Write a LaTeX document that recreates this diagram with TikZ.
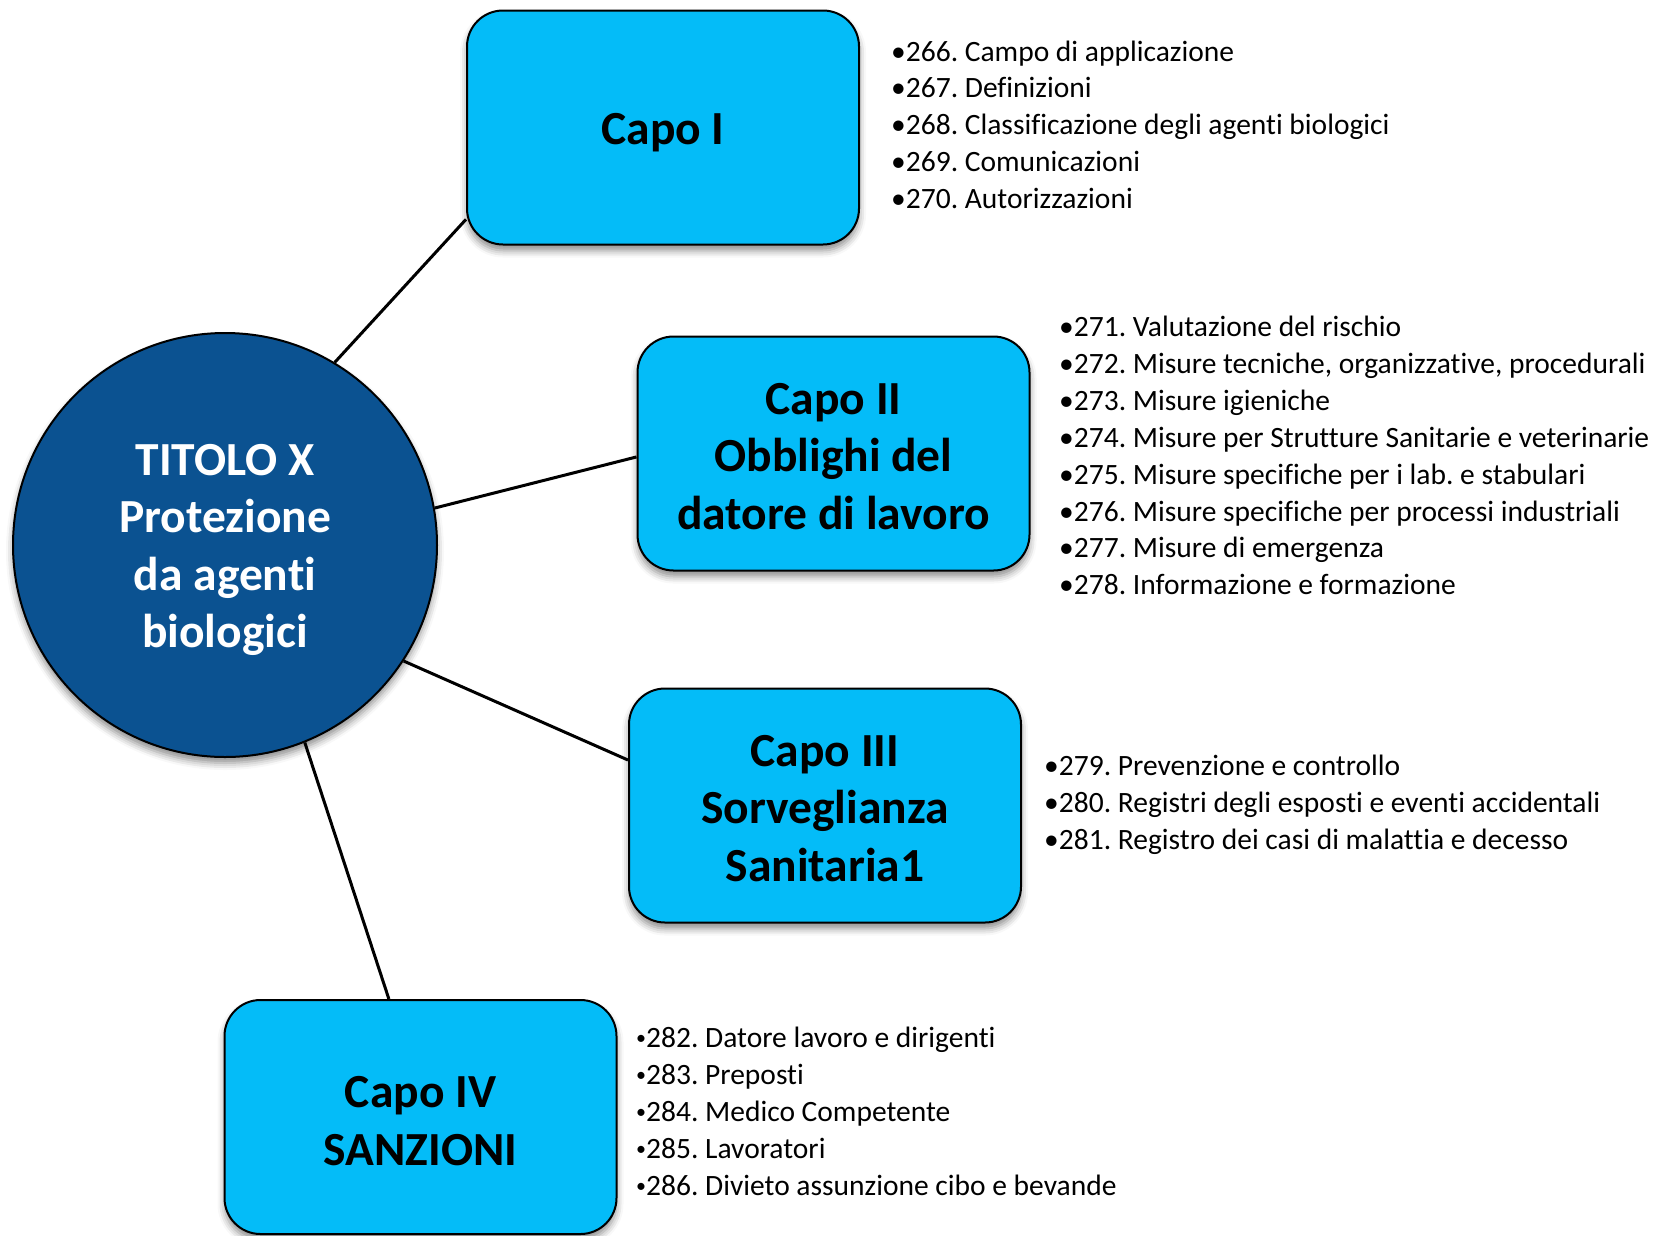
\documentclass[tikz,border=0pt]{standalone}
\usepackage{fontspec}
\setmainfont{Carlito}[Ligatures={NoCommon}]
\frenchspacing
\usetikzlibrary{shadows.blur}
\definecolor{boxcyan}{RGB}{4,188,248}
\definecolor{circblue}{RGB}{11,82,145}
\newcommand{\smallbul}{\raisebox{3pt}{\fontsize{20}{20}\selectfont •}}
\begin{document}
\begin{tikzpicture}[x=1pt,y=-1pt,
  capbox/.style={draw=black, line width=2pt, fill=boxcyan, rounded corners=36pt,
    minimum width=392pt, minimum height=234pt, inner sep=0pt,
    blur shadow={shadow xshift=0pt, shadow yshift=-6pt, shadow blur radius=7pt, shadow opacity=45}},
  titolo/.style={circle, draw=black, line width=2pt, fill=circblue, minimum size=424pt,
    inner sep=0pt,
    blur shadow={shadow xshift=0pt, shadow yshift=-6pt, shadow blur radius=7pt, shadow opacity=45}},
  bigtext/.style={align=center, inner sep=0pt, font=\fontsize{47.5}{57.5}\selectfont\bfseries},
  item/.style={anchor=base west, inner sep=0pt, font=\fontsize{29.5}{37}\selectfont, text=black},
  link/.style={draw=black, line width=3pt}
]
\useasboundingbox (0,0) rectangle (1667,1235);

\node[titolo] (tx) at (225,545) {};
\node[bigtext, text=white, yshift=-5pt] (txt) at (tx.center) {TITOLO X\\Protezione\\da agenti\\biologici};

\node[capbox] (c1) at (663,127.5) {};
\node[bigtext, yshift=-5pt] (c1t) at (c1.center) {Capo I};
\node[capbox] (c2) at (833.5,453.5) {};
\node[bigtext, yshift=-3pt] (c2t) at (c2.center) {Capo II\\Obblighi del\\datore di lavoro};
\node[capbox] (c3) at (825,805.5) {};
\node[bigtext, yshift=-3pt] (c3t) at (c3.center) {Capo III\\Sorveglianza\\Sanitaria1};
\node[capbox] (c4) at (420.5,1117) {};
\node[bigtext, yshift=-4pt] (c4t) at (c4.center) {Capo IV\\SANZIONI};

\draw[link] (tx.59.6) -- (c1.205.4);
\draw[link] (tx.10.4) -- (c2.181.3);
\draw[link] (tx.-33.2) -- (c3.167.8);
\draw[link] (tx.-68) -- (c4.105.7);

\foreach \t [count=\i] in {{•266. Campo di applicazione},{•267. Definizioni},{•268. Classificazione degli agenti biologici},{•269. Comunicazioni},{•270. Autorizzazioni}}
  \node[item] (a\i) at (891,{61+36.9*(\i-1)}) {\t};

\foreach \t [count=\i] in {{•271. Valutazione del rischio},{•272. Misure tecniche, organizzative, procedurali},{•273. Misure igieniche},{•274. Misure per Strutture Sanitarie e veterinarie},{•275. Misure specifiche per i lab. e stabulari},{•276. Misure specifiche per processi industriali},{•277. Misure di emergenza},{•278. Informazione e formazione}}
  \node[item] (b\i) at (1059,{336.5+36.9*(\i-1)}) {\t};

\foreach \t [count=\i] in {{•279. Prevenzione e controllo},{•280. Registri degli esposti e eventi accidentali},{•281. Registro dei casi di malattia e decesso}}
  \node[item] (d\i) at (1044,{775.5+37*(\i-1)}) {\t};

\foreach \t [count=\i] in {{282. Datore lavoro e dirigenti},{283. Preposti},{284. Medico Competente},{285. Lavoratori},{286. Divieto assunzione cibo e bevande}}
  \node[item] (e\i) at (636,{1047+37*(\i-1)}) {\smallbul\t};
\end{tikzpicture}
\end{document}
